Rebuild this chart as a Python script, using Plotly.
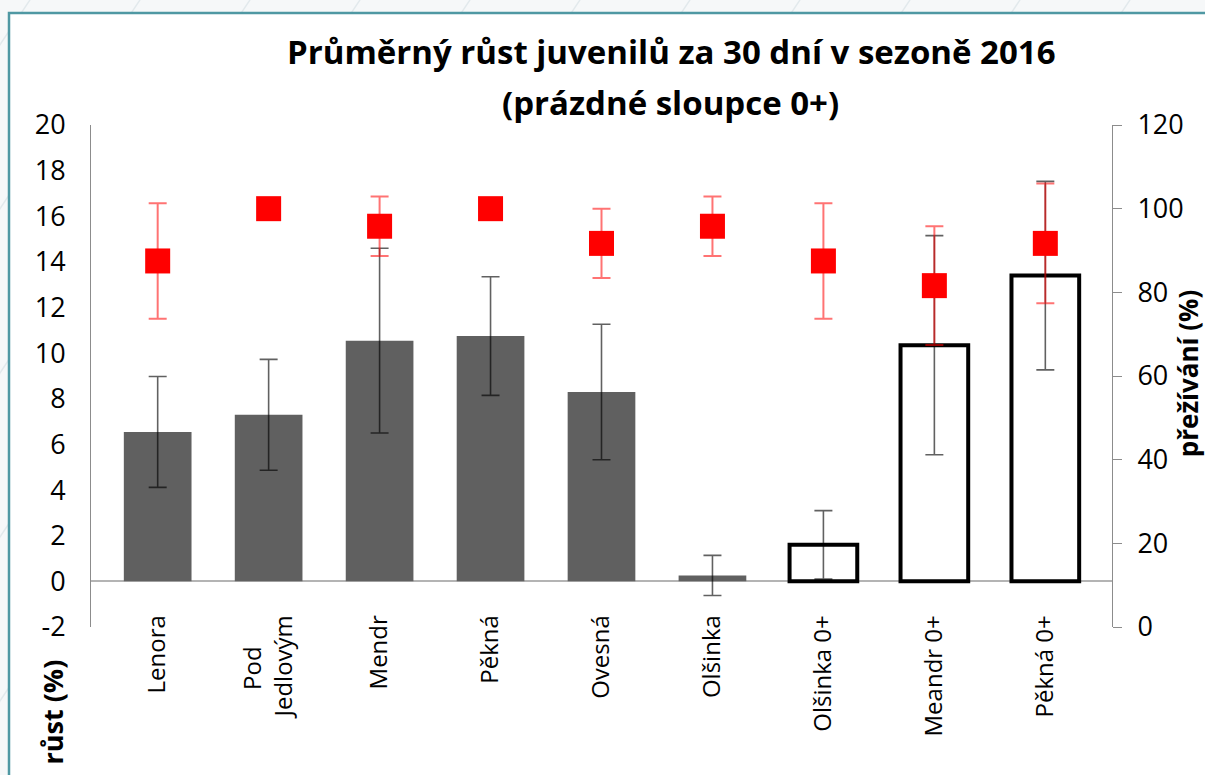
import plotly.graph_objects as go

# Sites (categories); "0+" columns are drawn as empty bars
sites = ["Lenora", "Pod\u00a0\u00a0\u00a0\u00a0\u00a0<br>Jedlovým", "Mendr", "Pěkná", "Ovesná",
         "Olšinka", "Olšinka 0+", "Meandr 0+", "Pěkná 0+"]
is_zero_plus = [False, False, False, False, False, False, True, True, True]

# Mean growth over 30 days (%) and its error
growth = [6.55, 7.3, 10.55, 10.75, 8.3, 0.26, 1.6, 10.35, 13.4]
growth_err = [2.43, 2.43, 4.05, 2.6, 2.97, 0.88, 1.5, 4.8, 4.13]

# Survival (%) and its error
survival = [87.5, 100, 95.8, 100, 91.7, 95.8, 87.5, 81.6, 91.7]
survival_err = [13.8, 0, 7.1, 0, 8.3, 7.1, 13.8, 14.2, 14.3]

# Axis tick values
growth_ticks = list(range(-2, 21, 2))
survival_ticks = list(range(0, 121, 20))

W, H = 1205, 775
L, R, T, B = 91, 93, 125, 148.4
PW, PH = W - L - R, H - T - B


def px_x(x):
    return (x - L) / PW


def px_y(y):
    return (H - B - y) / PH


FONT = "Open Sans"
GRAY_BAR = "#606060"

fig = go.Figure()

fig.add_trace(go.Bar(
    x=sites, y=growth,
    marker=dict(
        color=["white" if z else GRAY_BAR for z in is_zero_plus],
        line=dict(color=["black" if z else GRAY_BAR for z in is_zero_plus],
                  width=[4 if z else 0 for z in is_zero_plus]),
    ),
    error_y=dict(type="data", array=growth_err, visible=True,
                 color="rgba(0,0,0,0.62)", thickness=1.6, width=9),
    width=0.61,
    showlegend=False,
    yaxis="y",
))

fig.add_trace(go.Scatter(
    x=sites, y=survival, mode="markers",
    marker=dict(symbol="square", size=25, color="#ff0000"),
    error_y=dict(type="data", array=survival_err, visible=True,
                 color="rgba(255,0,0,0.55)", thickness=2, width=9),
    showlegend=False,
    yaxis="y2",
))

shapes = []
# faint diagonal strokes of the slide background
for x0 in range(-600, 1400, 110):
    shapes.append(dict(type="line", xref="paper", yref="paper", layer="below",
                       x0=px_x(x0), y0=px_y(H), x1=px_x(x0 + 520), y1=px_y(0),
                       line=dict(color="#e2e9ec", width=1.5)))
# white chart frame with teal border
shapes.append(dict(type="rect", xref="paper", yref="paper", layer="below",
                   x0=px_x(9), y0=px_y(H + 20), x1=px_x(W + 20), y1=px_y(13),
                   fillcolor="white", line=dict(color="#4f98a3", width=2.5)))

annotations = [
    dict(text="<b>Průměrný růst juvenilů za 30 dní v sezoně 2016</b>",
         x=px_x(671), y=px_y(52), xref="paper", yref="paper",
         showarrow=False, xanchor="center", yanchor="middle",
         font=dict(family=FONT, size=33, color="black")),
    dict(text="<b>(prázdné sloupce 0+)</b>",
         x=px_x(670), y=px_y(103), xref="paper", yref="paper",
         showarrow=False, xanchor="center", yanchor="middle",
         font=dict(family=FONT, size=33, color="black")),
    dict(text="<b>růst (%)</b>", textangle=-90,
         x=px_x(52), y=px_y(712), xref="paper", yref="paper",
         showarrow=False, xanchor="center", yanchor="middle",
         font=dict(family=FONT, size=27, color="black")),
    dict(text="<b>přežívání (%)</b>", textangle=-90,
         x=px_x(1188), y=px_y(373), xref="paper", yref="paper",
         showarrow=False, xanchor="center", yanchor="middle",
         font=dict(family=FONT, size=26, color="black")),
]

fig.update_layout(
    width=W, height=H,
    margin=dict(l=L, r=R, t=T, b=B),
    paper_bgcolor="#f6f8f9",
    plot_bgcolor="rgba(0,0,0,0)",
    bargap=0.39,
    font=dict(family=FONT, size=25, color="black"),
    shapes=shapes,
    annotations=annotations,
    xaxis=dict(
        type="category", anchor="free", position=px_y(609),
        showline=False, showgrid=False, ticks="", tickangle=-90,
        tickfont=dict(family=FONT, size=24, color="black"),
    ),
    yaxis=dict(
        range=[-2, 20], tickvals=growth_ticks,
        ticktext=[str(v) for v in growth_ticks], showgrid=False,
        showline=True, linecolor="#8c8c8c", linewidth=1, ticks="",
        zeroline=True, zerolinecolor="#b4b4b4", zerolinewidth=1.6,
        ticklabelstandoff=19,
        tickfont=dict(family=FONT, size=27, color="black"),
    ),
    yaxis2=dict(
        range=[0, 120], tickvals=survival_ticks,
        ticktext=[str(v) for v in survival_ticks], overlaying="y", side="right",
        showgrid=False, zeroline=False, showline=True, linecolor="#8c8c8c",
        linewidth=1, ticks="outside", ticklen=9, tickcolor="#8c8c8c",
        ticklabelstandoff=10,
        tickfont=dict(family=FONT, size=27, color="black"),
    ),
)

fig.write_html("out.html")
